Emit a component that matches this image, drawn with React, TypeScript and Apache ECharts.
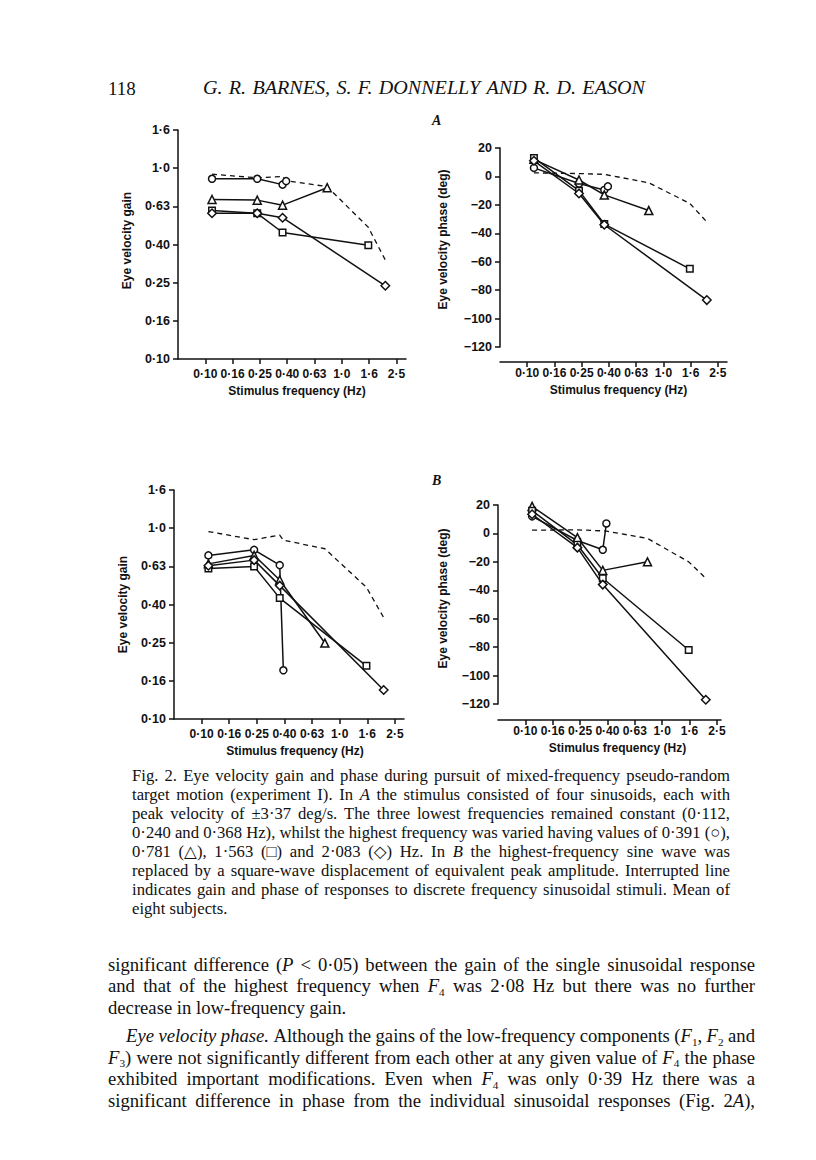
import React, { useEffect, useRef } from "react";
import * as echarts from "echarts";

// ---------------- data ----------------
const componentFreqs = [0.112, 0.24, 0.368]; // F1, F2, F3 (Hz)
const f4Values = [0.391, 0.781, 1.563, 2.083]; // F4 for circle, triangle, square, diamond
const sinusoidFreqs = [0.112, 0.24, 0.368, 0.391, 0.781, 1.563, 2.083];

const freqTickLabels = ["0·10", "0·16", "0·25", "0·40", "0·63", "1·0", "1·6", "2·5"];
const gainTickLabels = ["0·10", "0·16", "0·25", "0·40", "0·63", "1·0", "1·6"];

// Panel A – gain
const gainACircle = [0.88, 0.88, 0.82, 0.855];
const gainATriangle = [0.685, 0.68, 0.64, 0.79];
const gainASquare = [0.6, 0.58, 0.46, 0.395];
const gainADiamond = [0.58, 0.58, 0.55, 0.242];
const gainASinusoid = [0.93, 0.89, 0.905, 0.86, 0.8, 0.49, 0.33];

// Panel A – phase (deg)
const phaseACircle = [6, -5, -9.5, -7];
const phaseATriangle = [12, -2.5, -13, -24];
const phaseASquare = [13, -10, -33.5, -65];
const phaseADiamond = [11, -12, -34, -87];
const phaseASinusoid = [2.5, 2, 1.5, 1, -4.5, -19, -32];

// Panel B – gain
const gainBCircle = [0.72, 0.77, 0.64, 0.18];
const gainBTriangle = [0.65, 0.72, 0.535, 0.25];
const gainBSquare = [0.615, 0.63, 0.43, 0.19];
const gainBDiamond = [0.635, 0.68, 0.5, 0.142];
const gainBSinusoid = [0.96, 0.87, 0.92, 0.865, 0.78, 0.49, 0.34];

// Panel B – phase (deg)
const phaseBCircle = [12, -5, -11.5, 7];
const phaseBTriangle = [19, -3, -26, -20];
const phaseBSquare = [16, -8, -31.5, -82];
const phaseBDiamond = [13.5, -10, -36, -117];
const phaseBSinusoid = [2.3, 2.5, 1.8, 1.6, -3.5, -20, -31.6];

// ---------------- page text ----------------
const pageNumber = "118";
const runningHead = "G. R. BARNES, S. F. DONNELLY AND R. D. EASON";
const panelLetters = ["A", "B"];
const gainAxisName = "Eye velocity gain";
const phaseAxisName = "Eye velocity phase (deg)";
const freqAxisName = "Stimulus frequency (Hz)";
const captionLines = [
  "Fig. 2. Eye velocity gain and phase during pursuit of mixed-frequency pseudo-random",
  "target motion (experiment I). In {i|A} the stimulus consisted of four sinusoids, each with",
  "peak velocity of ±3·37 deg/s. The three lowest frequencies remained constant (0·112,",
  "0·240 and 0·368 Hz), whilst the highest frequency was varied having values of 0·391 (○),",
  "0·781 (△), 1·563 (□) and 2·083 (◇) Hz. In {i|B} the highest-frequency sine wave was",
  "replaced by a square-wave displacement of equivalent peak amplitude. Interrupted line",
  "indicates gain and phase of responses to discrete frequency sinusoidal stimuli. Mean of",
  "eight subjects.",
];
const bodyLines = [
  "significant difference ({i|P} < 0·05) between the gain of the single sinusoidal response",
  "and that of the highest frequency when {i|F}{s|4} was 2·08 Hz but there was no further",
  "decrease in low-frequency gain.",
  "{i|Eye} {i|velocity} {i|phase.} Although the gains of the low-frequency components ({i|F}{s|1}, {i|F}{s|2} and",
  "{i|F}{s|3}) were not significantly different from each other at any given value of {i|F}{s|4} the phase",
  "exhibited important modifications. Even when {i|F}{s|4} was only 0·39 Hz there was a",
  "significant difference in phase from the individual sinusoidal responses (Fig. 2{i|A}),",
];

// ---------------- styling helpers ----------------
const INK = "#111";
const SERIF = '"Liberation Serif", "DejaVu Serif", serif';
const SANS = '"Liberation Sans", "DejaVu Sans", Arial, sans-serif';
const NAME_FONT = 12;
const XTICK_FONT = 12;
const YTICK_FONT = 12.5;
const AXIS_W = 1.5;

const round6 = (v: number) => Math.round(v * 1e6) / 1e6;
const freqTickPos = freqTickLabels.map((_, k) => round6(-1 + 0.2 * k));
const gainTickPos = gainTickLabels.map((_, k) => round6(-1 + 0.2 * k));
const labelAt = (labels: string[], v: number) => {
  const k = Math.round((v + 1) / 0.2);
  return labels[k] ?? "";
};
const phaseLabel = (v: number) => (v < 0 ? "−" + Math.abs(v) : String(v));

const markerDefs = [
  { symbol: "circle", size: 7 },
  { symbol: "triangle", size: 8 },
  { symbol: "rect", size: 6.5 },
  { symbol: "diamond", size: 8.5 },
];

type Panel = {
  kind: "gain" | "phase";
  grid: { left: number; top: number; width: number; height: number };
  xMax: number;
  offset: number;
  series: number[][];
  sinus: number[];
  xNameShift: number;
  yNameGap: number;
  yNameShift: number;
  labelMargin: number;
  nameGap: number;
};

const panels: Panel[] = [
  {
    kind: "gain",
    grid: { left: 178, top: 130, width: 228, height: 229 },
    xMax: 0.47,
    offset: 0,
    series: [gainACircle, gainATriangle, gainASquare, gainADiamond],
    sinus: gainASinusoid,
    xNameShift: 5,
    yNameGap: 45,
    yNameShift: 4,
    labelMargin: 9,
    nameGap: 26,
  },
  {
    kind: "phase",
    grid: { left: 500, top: 148, width: 227, height: 199 },
    xMax: 0.467,
    offset: 15,
    series: [phaseACircle, phaseATriangle, phaseASquare, phaseADiamond],
    sinus: phaseASinusoid,
    xNameShift: 5,
    yNameGap: 51,
    yNameShift: 8,
    labelMargin: 5,
    nameGap: 22,
  },
  {
    kind: "gain",
    grid: { left: 174, top: 490, width: 230, height: 229 },
    xMax: 0.466,
    offset: 0,
    series: [gainBCircle, gainBTriangle, gainBSquare, gainBDiamond],
    sinus: gainBSinusoid,
    xNameShift: 6,
    yNameGap: 45,
    yNameShift: 0,
    labelMargin: 9,
    nameGap: 26,
  },
  {
    kind: "phase",
    grid: { left: 498, top: 505, width: 223, height: 199 },
    xMax: 0.43,
    offset: 16,
    series: [phaseBCircle, phaseBTriangle, phaseBSquare, phaseBDiamond],
    sinus: phaseBSinusoid,
    xNameShift: 8,
    yNameGap: 49,
    yNameShift: 6,
    labelMargin: 5,
    nameGap: 22,
  },
];

function baseRich(size: number) {
  const lh = Math.round(size * 1.2);
  const sub = Math.round(size * 0.62);
  return {
    i: { fontFamily: SERIF, fontSize: size, fontStyle: "italic", fill: INK, lineHeight: lh },
    s: { fontFamily: SERIF, fontSize: sub, fill: INK, lineHeight: sub, verticalAlign: "bottom" },
  } as any;
}

function textStyle(text: string, size: number, italic: boolean, rich: any) {
  return {
    text,
    fontFamily: SERIF,
    fontSize: size,
    fontStyle: italic ? "italic" : "normal",
    fill: INK,
    lineHeight: Math.round(size * 1.2),
    rich,
    align: "left",
    verticalAlign: "middle",
    textAlign: "left",
    textVerticalAlign: "middle",
  };
}

function measureWidth(style: any): number {
  try {
    const T = (echarts.graphic as any).Text;
    const t = new T({ style: { ...style } });
    const r = t.getBoundingRect();
    return r && isFinite(r.width) ? r.width : 0;
  } catch (e) {
    return 0;
  }
}

// replace spaces that are outside {...} tokens by fixed-width space tokens
function spaceTokens(text: string): { out: string; n: number } {
  let depth = 0;
  let out = "";
  let n = 0;
  for (const ch of text) {
    if (ch === "{") depth++;
    if (ch === "}") depth--;
    if (ch === " " && depth === 0) {
      out += "{w| }";
      n++;
    } else out += ch;
  }
  return { out, n };
}

// one justified line of print: words keep their shapes (slightly widened by sx),
// the spaces between them are stretched so the line fills `target` pixels
function textLine(
  text: string,
  x: number,
  y: number,
  size: number,
  target: number | null,
  italic = false,
  sxBase = 1
) {
  const lh = Math.round(size * 1.2);
  const minGap = size * 0.22;
  if (target) {
    const { out, n } = spaceTokens(text);
    if (n > 0) {
      const probe = 10;
      const rich = { ...baseRich(size), w: { width: probe, fontSize: size, fontFamily: SERIF, lineHeight: lh } };
      const w = measureWidth(textStyle(out, size, italic, rich));
      if (w > 0) {
        const words = w - probe * n;
        const local = target / sxBase;
        let gap = (local - words) / n;
        let sx = sxBase;
        if (gap < minGap) {
          gap = minGap;
          sx = target / (words + gap * n);
        }
        if (gap < size * 1.5) {
          const finalRich = { ...rich, w: { ...rich.w, width: gap } };
          return {
            type: "text",
            x,
            y,
            scaleX: sx,
            originX: 0,
            originY: 0,
            silent: true,
            style: textStyle(out, size, italic, finalRich),
          };
        }
      }
    }
  }
  return {
    type: "text",
    x,
    y,
    scaleX: sxBase,
    originX: 0,
    originY: 0,
    silent: true,
    style: textStyle(text, size, italic, baseRich(size)),
  };
}

function buildOption() {
  const grids: any[] = [];
  const xAxes: any[] = [];
  const yAxes: any[] = [];
  const series: any[] = [];
  const nameStyle = (shift: number) => ({
    color: INK,
    fontFamily: SANS,
    fontSize: NAME_FONT,
    fontWeight: "bold",
    padding: [0, 0, 0, shift * 2],
  });

  panels.forEach((p, i) => {
    grids.push({ ...p.grid, containLabel: false, outerBoundsMode: "none", show: false });
    xAxes.push({
      type: "value",
      gridIndex: i,
      min: -1.2,
      max: p.xMax,
      interval: 0.2,
      offset: p.offset,
      axisLine: { show: true, onZero: false, lineStyle: { color: INK, width: AXIS_W } },
      axisTick: { show: true, length: 5, inside: false, customValues: freqTickPos, lineStyle: { color: INK, width: AXIS_W } },
      axisLabel: {
        show: true,
        customValues: freqTickPos,
        hideOverlap: false,
        margin: p.labelMargin,
        color: INK,
        fontFamily: SANS,
        fontSize: XTICK_FONT,
        fontWeight: "bold",
        formatter: (v: number) => labelAt(freqTickLabels, v),
      },
      splitLine: { show: false },
      name: freqAxisName,
      nameLocation: "middle",
      nameGap: p.nameGap,
      nameTextStyle: nameStyle(p.xNameShift),
    });
    const isGain = p.kind === "gain";
    yAxes.push({
      type: "value",
      gridIndex: i,
      min: isGain ? -1 : -120,
      max: isGain ? 0.2 : 20,
      interval: isGain ? 0.2 : 20,
      axisLine: { show: true, onZero: false, lineStyle: { color: INK, width: AXIS_W } },
      axisTick: isGain
        ? { show: true, length: 5, customValues: gainTickPos, lineStyle: { color: INK, width: AXIS_W } }
        : { show: true, length: 5, lineStyle: { color: INK, width: AXIS_W } },
      axisLabel: isGain
        ? {
            customValues: gainTickPos,
            margin: 8,
            color: INK,
            fontFamily: SANS,
            fontSize: YTICK_FONT,
            fontWeight: "bold",
            formatter: (v: number) => labelAt(gainTickLabels, v),
          }
        : {
            margin: 8,
            color: INK,
            fontFamily: SANS,
            fontSize: YTICK_FONT,
            fontWeight: "bold",
            formatter: phaseLabel,
          },
      splitLine: { show: false },
      name: isGain ? gainAxisName : phaseAxisName,
      nameLocation: "middle",
      nameGap: p.yNameGap,
      nameTextStyle: nameStyle(p.yNameShift),
    });

    const yv = (v: number) => (isGain ? Math.log10(v) : v);
    // interrupted line: responses to discrete sinusoidal stimuli
    series.push({
      type: "line",
      xAxisIndex: i,
      yAxisIndex: i,
      data: sinusoidFreqs.map((f, k) => [Math.log10(f), yv(p.sinus[k])]),
      symbol: "none",
      showSymbol: false,
      lineStyle: { color: INK, width: 1.3, type: [5, 4] },
      z: 1,
      silent: true,
    });
    p.series.forEach((vals, j) => {
      const xs = [...componentFreqs, f4Values[j]];
      series.push({
        type: "line",
        xAxisIndex: i,
        yAxisIndex: i,
        data: xs.map((f, k) => [Math.log10(f), yv(vals[k])]),
        symbol: markerDefs[j].symbol,
        symbolSize: markerDefs[j].size,
        showSymbol: true,
        showAllSymbol: true,
        clip: false,
        lineStyle: { color: INK, width: 1.5 },
        itemStyle: { color: "#fff", borderColor: INK, borderWidth: 1.5 },
        z: 2 + j,
        silent: true,
      });
    });
  });

  const graphics: any[] = [];
  graphics.push(textLine(pageNumber, 108, 88, 19, null));
  graphics.push(textLine(runningHead, 203, 88, 19, 442, true, 1.06));
  graphics.push({
    type: "text",
    x: 432,
    y: 120,
    silent: true,
    style: { ...textStyle(panelLetters[0], 14, true, baseRich(14)), fontWeight: "bold" },
  });
  graphics.push({
    type: "text",
    x: 432,
    y: 480,
    silent: true,
    style: { ...textStyle(panelLetters[1], 14, true, baseRich(14)), fontWeight: "bold" },
  });

  captionLines.forEach((ln, k) => {
    const last = k === captionLines.length - 1;
    graphics.push(textLine(ln, 132, 776 + 19 * k, 16.5, last ? null : 598, false, 1.01));
  });
  const bodyY = [965, 986.5, 1008, 1036.5, 1058, 1079.5, 1101];
  bodyLines.forEach((ln, k) => {
    const indent = k === 3 ? 18 : 0;
    const justify = k !== 2;
    graphics.push(textLine(ln, 108 + indent, bodyY[k], 18.3, justify ? 647 - indent : null, false, 1.02));
  });

  return {
    animation: false,
    backgroundColor: "#ffffff",
    tooltip: { show: false },
    grid: grids,
    xAxis: xAxes,
    yAxis: yAxes,
    series,
    graphic: { elements: graphics },
  };
}

export default function App() {
  const ref = useRef<HTMLDivElement>(null);
  useEffect(() => {
    if (!ref.current) return;
    const chart = echarts.init(ref.current, null, { renderer: "svg" });
    chart.setOption(buildOption() as any);
    return () => chart.dispose();
  }, []);
  return (
    <div
      ref={ref}
      style={{ position: "absolute", left: 0, top: 0, width: 816, height: 1160, background: "#fff" }}
    />
  );
}
